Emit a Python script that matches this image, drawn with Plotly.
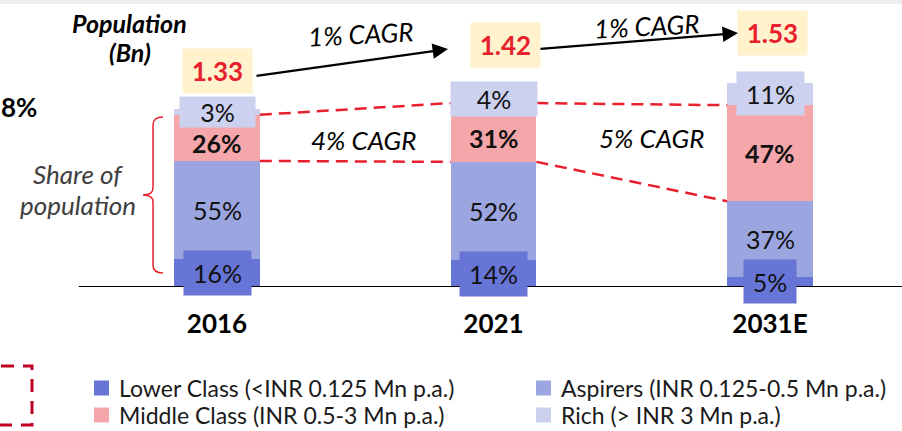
import plotly.graph_objects as go

# ---------------- data ----------------
years = ["2016", "2021", "2031E"]
population_bn = [1.33, 1.42, 1.53]
population_labels = ["1.33", "1.42", "1.53"]
series_names = [
    "Lower Class (<INR 0.125 Mn p.a.)",
    "Aspirers (INR 0.125-0.5 Mn p.a.)",
    "Middle Class (INR 0.5-3 Mn p.a.)",
    "Rich (> INR 3 Mn p.a.)",
]
lower_share = [16, 14, 5]
aspirers_share = [55, 52, 37]
middle_share = [26, 31, 47]
rich_share = [3, 4, 11]
pop_cagr_labels = ["1% CAGR", "1% CAGR"]
middle_cagr_labels = ["4% CAGR", "5% CAGR"]

# ---------------- style ----------------
W, H = 902, 431
PB = 287            # pixel row of the baseline
PX_PER_CAT = 276.5
PX_FIRST = 217
PX_PER_BN = 133.5
BAR_W = 0.31
FONT = "Lato"
colors = ["#6675D6", "#9BA6E1", "#F5A6AB", "#CDD1F0"]
RED = "#E8202D"
DARKRED = "#C00020"
BOX_YELLOW = "#FFF2CC"

def X(px):
    return px / W

def Y(py):
    return (PB - py) / PB

shares = [lower_share, aspirers_share, middle_share, rich_share]
xs = list(range(len(years)))

fig = go.Figure()
for name, sh, col in zip(series_names, shares, colors):
    fig.add_trace(go.Bar(
        x=xs, y=[s / 100 * p for s, p in zip(sh, population_bn)],
        name=name, marker=dict(color=col, line=dict(width=0)),
        width=BAR_W, showlegend=False, hoverinfo="skip"))

ann = []
shapes = []

def text_ann(px, py, text, font, **kw):
    d = dict(x=X(px), y=Y(py), xref="paper", yref="paper", text=text,
             showarrow=False, xanchor="center", yanchor="middle", font=font)
    d.update(kw)
    return d

# segment labels
lower_box = [(67, 44), (67, 44), (52, 43)]
rich_box = [(75, 30), (86, 34), (67, 43)]
middle_shift = [-5, -5, 0]
for i in xs:
    base = 0.0
    for k, sh in enumerate(shares):
        seg = sh[i] / 100 * population_bn[i]
        yc = base + seg / 2
        txt = f"{sh[i]}%"
        a = dict(x=i, y=yc, xref="x", yref="y", text=txt, showarrow=False,
                 font=dict(family=FONT, size=25, color="#111111"),
                 xanchor="center", yanchor="middle", borderpad=0)
        if k == 0:
            a.update(bgcolor=colors[0], width=lower_box[i][0], height=lower_box[i][1])
        elif k == 2:
            a["font"]["weight"] = "bold"
            a["yshift"] = middle_shift[i]
        elif k == 3:
            a.update(bgcolor=colors[3], width=rich_box[i][0], height=rich_box[i][1])
        ann.append(a)
        base += seg

# population boxes
pop_yshift = [38, 51, 50]
pop_xshift = [0, 12, 2]
for i in xs:
    total = sum(sh[i] / 100 * population_bn[i] for sh in shares)
    ann.append(dict(x=i, y=total, xref="x", yref="y", text=population_labels[i],
                    showarrow=False, yshift=pop_yshift[i], xshift=pop_xshift[i],
                    xanchor="center", yanchor="middle",
                    font=dict(family=FONT, size=26, color=RED, weight="bold"),
                    bgcolor=BOX_YELLOW, width=69, height=44, borderpad=0))

# dashed connectors for middle class segment
def bounds(j):
    lo = (lower_share[j] + aspirers_share[j]) / 100 * population_bn[j]
    hi = lo + middle_share[j] / 100 * population_bn[j]
    return lo, hi

for i in range(len(xs) - 1):
    lo0, hi0 = bounds(i)
    lo1, hi1 = bounds(i + 1)
    for a0, a1 in ((lo0, lo1), (hi0, hi1)):
        shapes.append(dict(type="line", xref="x", yref="y",
                           x0=i + BAR_W / 2, x1=i + 1 - BAR_W / 2, y0=a0, y1=a1,
                           line=dict(color=RED, width=2.5, dash="12px,7px")))

# population arrows
arrows = [((448, 49), (255, 76)), ((738, 33), (539, 49))]
for (tx, ty), (sx, sy) in arrows:
    ann.append(dict(x=X(tx), y=Y(ty), xref="paper", yref="paper", text="",
                    showarrow=True, ax=sx - tx, ay=sy - ty, arrowhead=2,
                    arrowsize=1.4, arrowwidth=2.2, arrowcolor="#000000", standoff=0))

# CAGR texts
ital = dict(family=FONT, size=26, color="#000000", style="italic")
for txt, (px, py) in zip(pop_cagr_labels, [(360, 34), (646, 26)]):
    ann.append(text_ann(px, py, txt, ital, textangle=-3))
for txt, (px, py) in zip(middle_cagr_labels, [(363, 140), (651, 138)]):
    ann.append(text_ann(px, py, txt, ital))

# left side texts
bi = dict(family=FONT, size=25, color="#000000", style="italic", weight="bold")
ann.append(text_ann(129, 23, "Population", bi))
ann.append(text_ann(130, 52, "(Bn)", bi))
ann.append(text_ann(39, 107, "8%", dict(family=FONT, size=26, color="#000000", weight="bold"),
                    xanchor="right"))
gi = dict(family=FONT, size=26, color="#404040", style="italic")
ann.append(text_ann(78, 174, "Share of", gi))
ann.append(text_ann(78, 205, "population", gi))

# red curly bracket
def P(px, py):
    return f"{X(px)},{Y(py)}"
br = (f"M{P(163,117)} Q{P(153,117)} {P(153,125)} L{P(153,188)} "
      f"Q{P(153,195)} {P(143,195)} Q{P(153,195)} {P(153,202)} "
      f"L{P(153,265)} Q{P(153,273)} {P(163,273)}")
shapes.append(dict(type="path", xref="paper", yref="paper", path=br,
                   line=dict(color=RED, width=1.5)))

# baseline
shapes.append(dict(type="line", xref="x", yref="y", x0=-0.5, x1=2.6, y0=0, y1=0,
                   line=dict(color="#000000", width=2)))

# faint top shadow
shapes.append(dict(type="rect", xref="paper", yref="paper", x0=0, x1=1,
                   y0=Y(4), y1=Y(0), fillcolor="#EDEDED", line=dict(width=0),
                   layer="below"))

# legend (manual)
legend_pos = [(94, 388), (536, 388), (94, 415), (536, 415)]
for name, col, (lx, ly) in zip(series_names, colors, legend_pos):
    shapes.append(dict(type="rect", xref="paper", yref="paper",
                       x0=X(lx), x1=X(lx + 15), y0=Y(ly - 7.5), y1=Y(ly + 7.5),
                       fillcolor=col, line=dict(width=0)))
    ann.append(text_ann(lx + 23, ly, name,
                        dict(family=FONT, size=23, color="#1A1A1A"), xanchor="left"))

# dashed legend marker at bottom-left (cropped)
shapes.append(dict(type="rect", xref="paper", yref="paper",
                   x0=X(-45), x1=X(32), y0=Y(425), y1=Y(366),
                   line=dict(color=DARKRED, width=3, dash="13px,9px")))

fig.update_layout(
    width=W, height=H, barmode="stack", bargap=0,
    margin=dict(l=0, r=0, t=0, b=H - PB, pad=0),
    paper_bgcolor="white", plot_bgcolor="white",
    xaxis=dict(range=[-PX_FIRST / PX_PER_CAT, (W - PX_FIRST) / PX_PER_CAT],
               tickvals=xs, ticktext=years, showgrid=False, zeroline=False,
               showline=False, ticks="", ticklabelstandoff=19,
               tickfont=dict(family=FONT, size=26, color="#000000", weight="bold")),
    yaxis=dict(range=[0, PB / PX_PER_BN], visible=False, showgrid=False),
    annotations=ann, shapes=shapes, showlegend=False,
)
fig.write_html("out.html")
